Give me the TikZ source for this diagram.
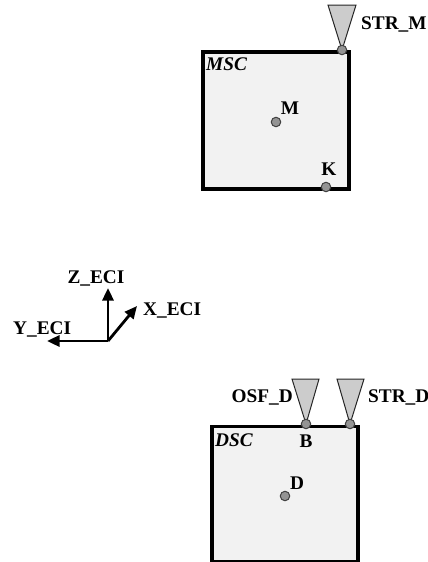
\documentclass[tikz,border=0pt]{standalone}
\usepackage{fontspec}
\setmainfont{Liberation Serif}
\usetikzlibrary{arrows.meta}
\begin{document}
\begin{tikzpicture}[x=1pt,y=-1pt,
  lbl/.style={font=\fontsize{19.3}{22}\selectfont\bfseries,inner sep=0pt,text=black},
  ilbl/.style={font=\fontsize{19.3}{22}\selectfont\bfseries\itshape,inner sep=0pt,text=black},
  craft/.style={draw=black,line width=3.6pt,fill=black!5},
  sensor/.style={draw=black!85,line width=1pt,fill=black!20},
  pt/.style={circle,draw=black!75,line width=1pt,fill=black!42,minimum size=9.5pt,inner sep=0pt},
  axis/.style={draw=black,line width=2.8pt,-{Triangle[length=12.5pt,width=11pt]}}]
\useasboundingbox (0,0) rectangle (428,562);
\node[craft,minimum width=146pt,minimum height=137pt,inner sep=0pt,anchor=north west] (msc) at (201,50) {};
\node[craft,minimum width=146pt,minimum height=135pt,inner sep=0pt,anchor=north west] (dsc) at (210,424.5) {};
\coordinate (strmA) at (328,5); \coordinate (strmB) at (356,5); \coordinate (strmC) at (342,50);
\coordinate (osfA) at (292,379); \coordinate (osfB) at (319,379); \coordinate (osfC) at (306,424);
\coordinate (strdA) at (337,379); \coordinate (strdB) at (364,379); \coordinate (strdC) at (350,424);
\draw[sensor] (strmA) -- (strmB) -- (strmC) -- cycle;
\draw[sensor] (osfA) -- (osfB) -- (osfC) -- cycle;
\draw[sensor] (strdA) -- (strdB) -- (strdC) -- cycle;
\node[pt] (ps) at (strmC) {};
\node[pt] (m) at (276,122) {};
\node[pt] (k) at (326,187) {};
\node[pt] (b) at (osfC) {};
\node[pt] (ps2) at (strdC) {};
\node[pt] (d) at (285,496) {};
\node[lbl,anchor=west] (lstrm) at (361,24) {STR\_M};
\node[ilbl,anchor=west] (lmsc) at (206,64) {MSC};
\node[lbl] (lm) at (290,108) {M};
\node[lbl] (lk) at (329,169) {K};
\node[lbl,anchor=east] (losf) at (293,397) {OSF\_D};
\node[lbl,anchor=west] (lstrd) at (368,397) {STR\_D};
\node[ilbl,anchor=west] (ldsc) at (215,440) {DSC};
\node[lbl] (lb) at (306,441) {B};
\node[lbl] (ld) at (297,483) {D};
\coordinate (o) at (108,341);
\coordinate (z) at (108,288);
\coordinate (x) at (137,306);
\coordinate (y) at (47,341);
\draw[axis] (o) -- (z);
\draw[axis] (o) -- (x);
\draw[axis] (o) -- (y);
\node[lbl] (lz) at (96,278) {Z\_ECI};
\node[lbl,anchor=west] (lx) at (143,310) {X\_ECI};
\node[lbl,anchor=west] (ly) at (13,329) {Y\_ECI};
\end{tikzpicture}
\end{document}
